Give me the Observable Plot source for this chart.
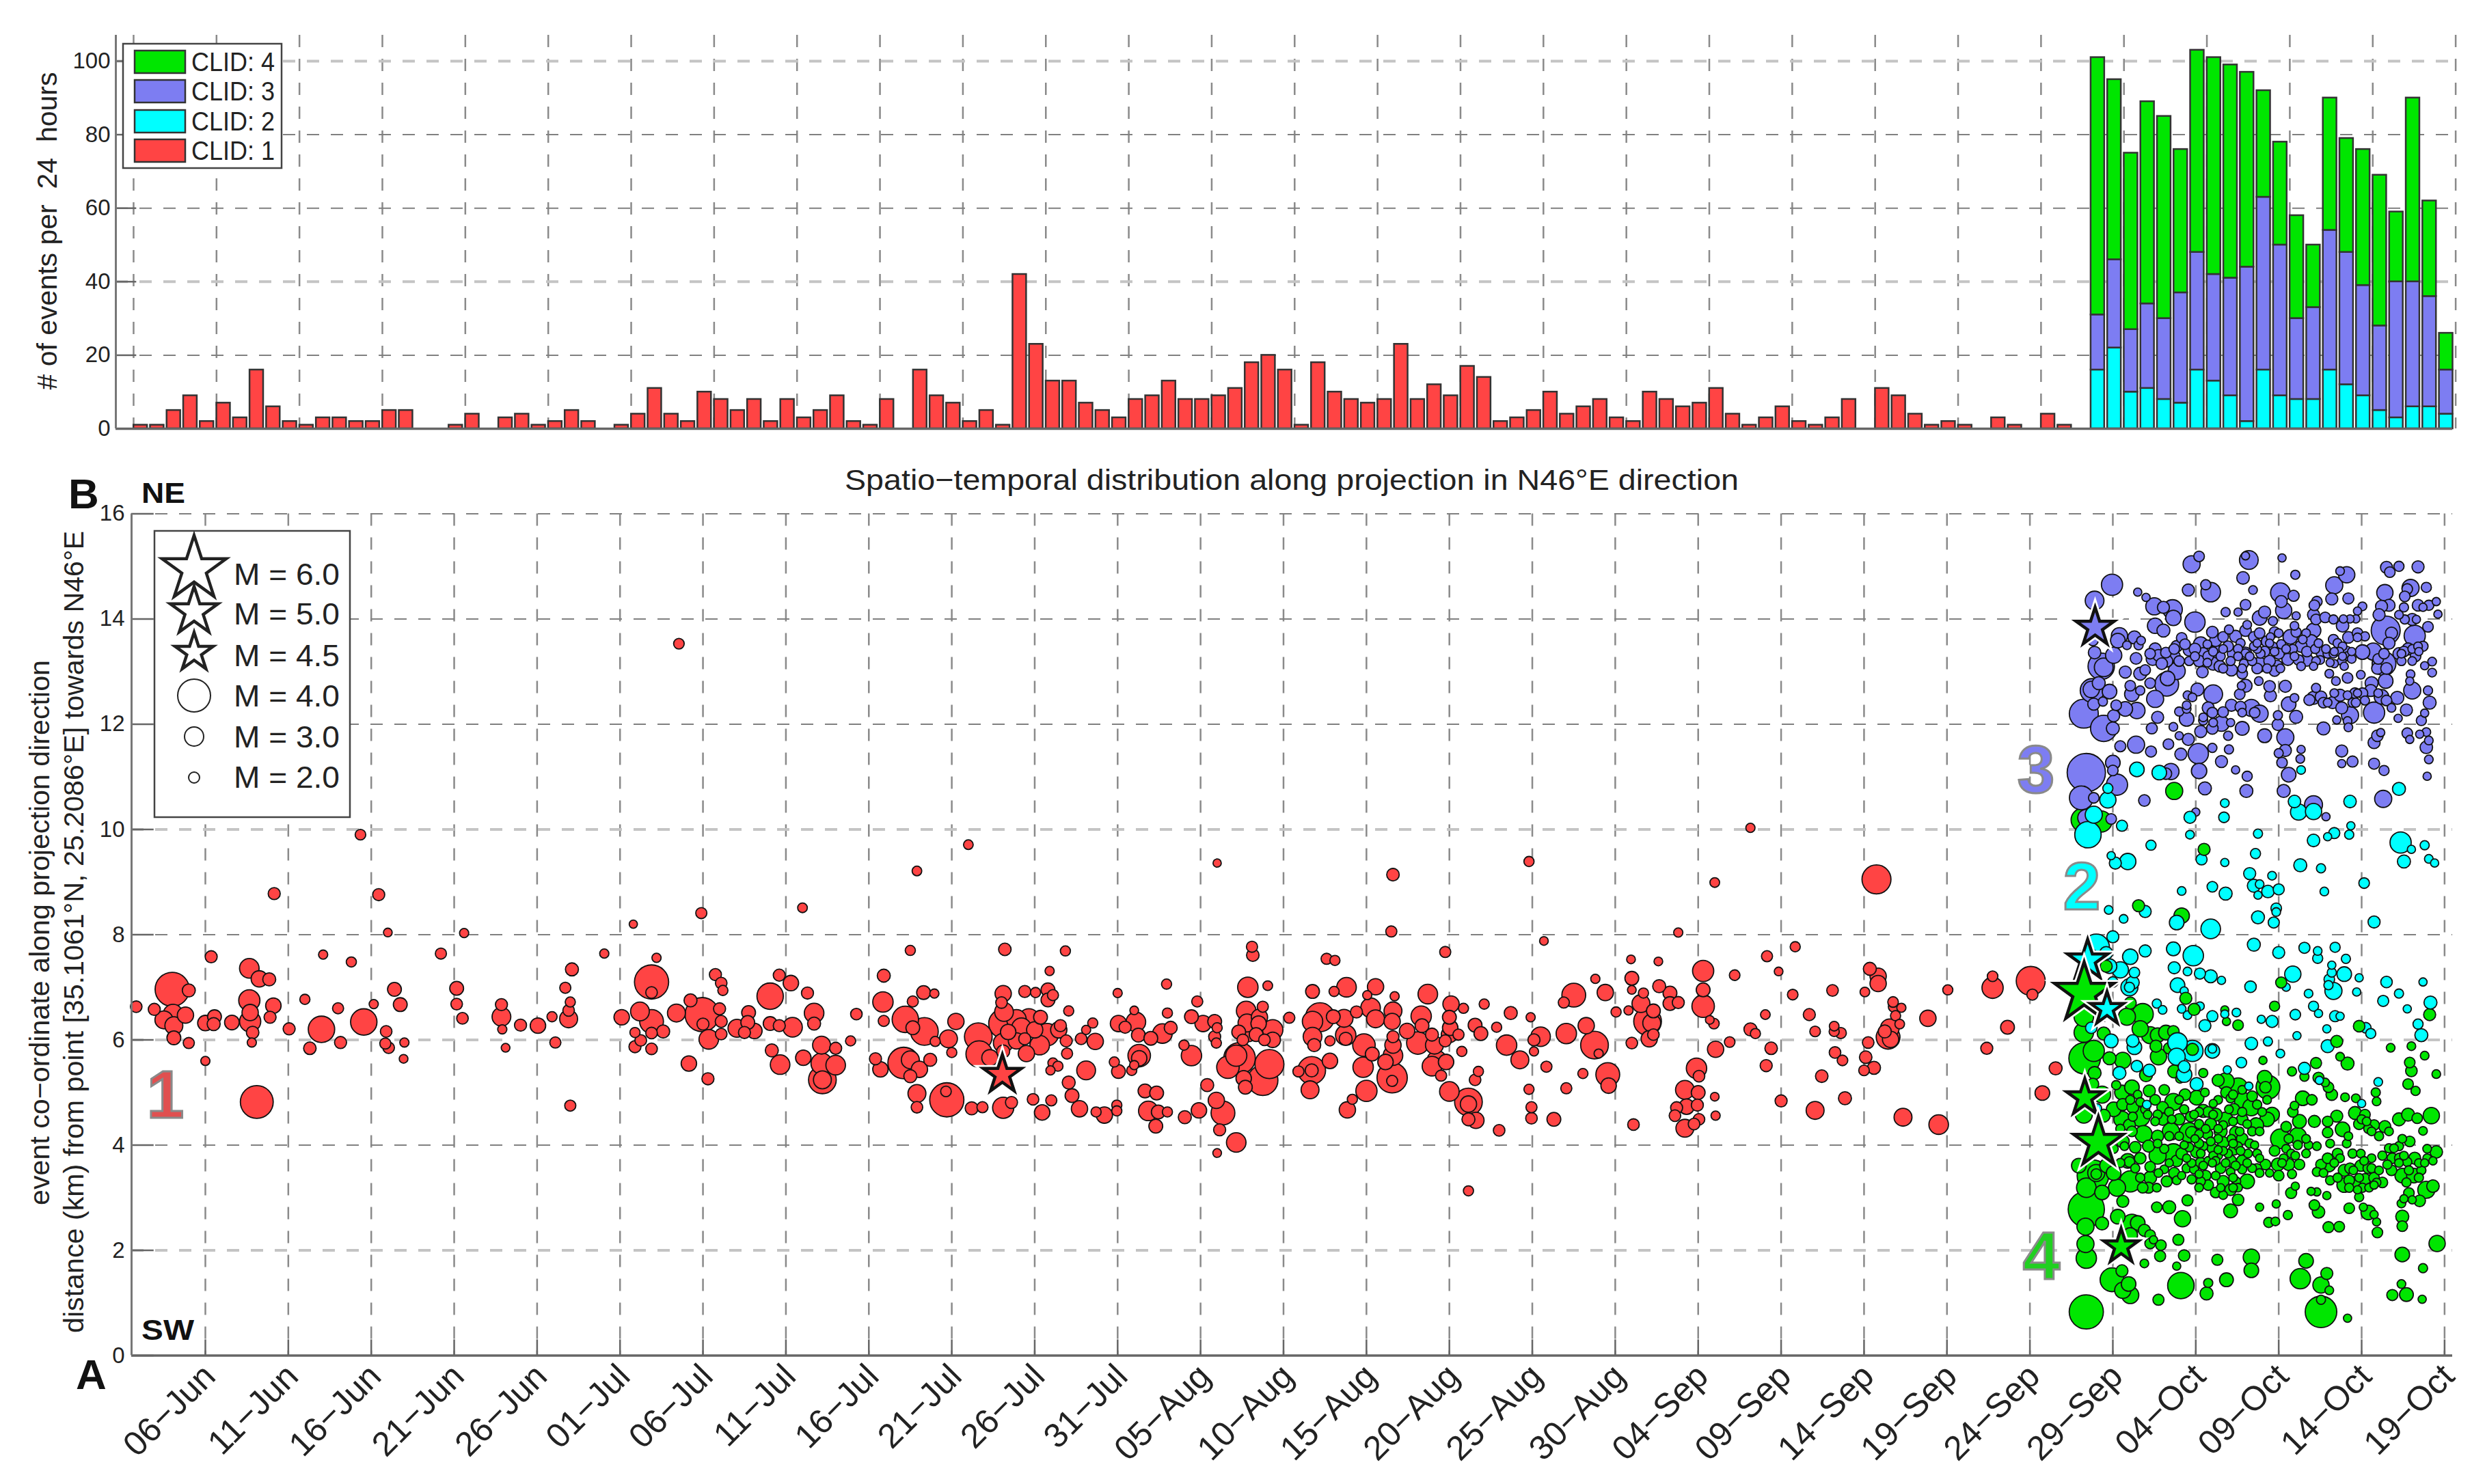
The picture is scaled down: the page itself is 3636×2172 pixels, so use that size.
<!DOCTYPE html>
<html><head><meta charset="utf-8">
<script src="https://cdn.jsdelivr.net/npm/d3@7"></script>
<script src="https://cdn.jsdelivr.net/npm/@observablehq/plot@0.6"></script>
<style>html,body{margin:0;padding:0;background:#fff}#page{position:relative;width:3636px;height:2172px;overflow:hidden;background:#fff}svg{position:absolute;left:0}</style>
</head><body><div id="page"></div>
<script>
// Daily event counts (24 h bins), first bin is index 0
const countsClid1 = [1,1,5,9,2,7,3,16,6,2,1,3,3,2,2,5,5,0,0,1,4,0,3,4,1,2,5,2,0,1,4,11,4,2,10,8,5,8,2,8,3,5,9,2,1,8,
0,16,9,7,2,5,1,42,23,13,13,7,5,3,8,9,13,8,8,9,11,18,20,16,1,18,10,8,7,8,23,8,12,9,17,14,2,3,5,10,4,6,8,3,2,10,8,6,7,
11,4,1,3,6,2,1,3,8,0,11,9,4,1,2,1,0,3,1,0,4,1,0];
const countsClid2 = [16,22,10,11,8,7,16,13,9,2,16,9,8,8,16,12,9,5,3,6,6,4];
const countsClid3 = [15,24,17,23,22,30,32,29,32,42,47,41,22,25,38,36,30,23,37,34,30,12];
const countsClid4 = [70,49,48,55,55,39,55,59,58,53,29,28,28,17,36,31,37,41,19,50,26,10];

// Events: [days since 1 June, km along projection, magnitude]
const clid1Events = [[.83,6.63,1.7],[1.92,6.58,1.8],[3,6.96,4],[4,6.94,2],[2.5,6.38,2.6],[3.05,6.49,2.8],[3.8,6.47,2.4],[3.1,6.27,2.6],[3.1,6.04,2.1],[4,5.94,1.6],[5,6.32,2.3],[5.55,6.44,2.1],[5.5,6.3,2],[5,5.6,1.2],[5.35,7.58,1.8],[6.6,6.33,2.2],[7.65,7.36,2.8],[8.25,7.16,2.4],[8.85,7.15,2],[7.65,6.75,3],[7.7,6.52,2.4],[7.7,6.35,3],[7.85,6.14,1.9],[7.8,5.95,1.2],[9.1,6.65,2.3],[8.9,6.43,1.8],[8.1,4.82,3.9],[10.05,6.21,1.8],[11.3,5.84,1.9],[11,6.77,1.4],[12,6.2,3.4],[13,6.6,1.6],[13.15,5.95,1.8],[14.55,6.34,3.4],[15.15,6.68,1.2],[13.8,7.48,1.4],[15.9,6.16,1.7],[15.85,5.93,1.6],[16.05,5.85,1.7],[17,5.95,1.2],[16.95,5.64,1.1],[16.4,6.96,2.1],[16.75,6.67,2.1],[20.15,6.98,2.1],[20.15,6.68,1.7],[20.5,6.41,1.7],[22.85,6.67,1.8],[22.85,6.44,2.7],[22.9,6.2,1.2],[23.1,5.85,1.1],[24,6.28,1.8],[25.05,6.27,2.3],[25.9,6.44,1.4],[26.1,5.95,1.6],[26.7,6.99,1.6],[27.1,7.34,2],[27,6.72,1.4],[26.9,6.56,1.7],[26.9,6.4,2.6],[27,4.75,1.6],[30.1,6.43,2.3],[31.9,7.1,4],[31.9,6.9,1.7],[31.2,6.54,2.7],[31.9,6.35,3.2],[30.9,6.14,1.4],[31.25,5.99,1.7],[30.9,5.87,1.8],[31.9,5.83,1.7],[31.9,6.13,1.7],[32.6,6.16,2],[33.4,6.51,2.6],[34.95,6.48,4],[35,6.3,1.8],[34.25,6.75,2],[35.35,6.01,2.8],[34.15,5.55,2.3],[35.3,5.26,1.8],[35.75,7.24,1.8],[36.1,7.08,1.7],[36.2,6.94,1.4],[36,6.59,1.8],[36.1,6.35,1.8],[36.1,6.11,1.7],[37.05,6.22,2.6],[37.75,6.52,2.1],[37.7,6.33,2.1],[37.5,6.14,1.8],[38.1,6.17,2.3],[39.05,6.83,3.4],[39.05,6.31,2.1],[39.6,6.27,1.8],[40.4,6.24,2.8],[40.3,7.08,2.3],[39.6,7.23,1.8],[41.3,6.89,1.8],[41.7,6.51,2.8],[41.7,6.31,2],[39.15,5.8,2],[39.65,5.53,2.8],[41.05,5.66,2.3],[42.15,5.9,2.6],[43,5.84,1.8],[42.15,5.55,3],[43,5.52,2.8],[42.2,5.24,3.5],[42.2,5.24,2.6],[43.9,5.98,1.4],[44.25,6.49,1.7],[45.4,5.64,1.8],[45.7,5.44,2.3],[45.85,6.72,2.9],[45.9,7.22,2],[45.9,6.36,1.6],
[33.55,13.53,1.5],[14.35,9.9,1.5],[9.15,8.78,1.8],[15.45,8.76,1.8],[16,8.04,1.1],[20.6,8.03,1.2],[34.9,8.41,1.6],[41,8.51,1.3],[30.8,8.2,1],[12.1,7.62,1.2],[19.2,7.64,1.6],[29.05,7.64,1.2],[32.2,7.56,1.2],
[51,9.71,1.3],[47.9,9.21,1.3],[66,9.36,1],[76.6,9.14,1.9],[84.8,9.39,1.4],[76.5,8.06,1.6],[93.8,8.04,1.2],[47.5,7.7,1.4],[53.2,7.72,1.9],[56.85,7.69,1.4],[68.1,7.77,1.6],[68.15,7.61,1.9],[72.6,7.54,1.6],[73.1,7.51,1.4],[79.75,7.67,1.6],[85.7,7.88,1.1],[90.95,7.53,1.1],[92.6,7.49,1.1],[55.9,7.31,1.2],[62.95,7.06,1.4],[69.05,7.03,1.3],[67.85,7,2.9],[73.8,7,2.8],[75.55,7.01,2.4],[71.75,6.92,2.1],[73.05,6.92,1.4],[75.05,6.85,1.2],[78.7,6.87,2.8],[76.7,6.83,1.2],[87.5,6.85,3.2],[86.9,6.71,1.6],[88.8,7.16,1.2],[91,7.17,2.1],[89.4,6.9,2.4],[91,6.95,1.1],[92.65,7.02,2],[91.7,6.89,1.4],[93.3,6.89,2.1],[93.8,6.71,1.8],[93.3,6.69,2.1],[95.3,7.31,3],[95.3,6.95,2.1],[95.3,6.64,3.1],[48.3,6.9,2.1],[48.95,6.88,1.2],[47.65,6.73,1.6],[53.1,6.88,2.4],[54.4,6.92,1.8],[55.05,6.9,1.4],[55.8,6.95,2.1],[55.8,6.76,2.1],[56.1,6.85,1.6],[57.05,6.55,1.4],[60,6.89,1.2],[61,6.56,1.1],[64.8,6.73,1.6],[63,6.51,1.4],[64.45,6.44,2.1],[70.35,6.42,1.6],[82.1,6.68,1.4],[83.7,6.51,2],[82.85,6.24,1.4],[84.9,6.43,1.2],[80.85,6.6,1.4],[80.1,6.68,2.4],[47.2,6.39,3.4],[48.35,6.16,3.5],[47.65,6.23,2.1],[50.25,6.35,2.4],[49.8,6.02,2.6],[49,5.97,1.4],[50,5.76,1.4],[51.6,6.06,3.5],[51.65,5.73,3.4],[47.1,5.56,3.8],[47.5,5.62,2.6],[48.05,5.44,2.4],[47.5,5.31,2],[48.7,5.62,2],[47.9,4.98,2.6],[47.9,4.72,1.7],[49.7,4.86,4],[49.65,5.02,1.5],[51.2,4.7,2],[51.85,4.72,1.6],[53.1,4.71,3],[53.6,4.81,1.8],[54.9,4.87,1.7],[56,4.85,1.6],[55.45,4.62,2.3],[57.7,4.69,2.4],[57.25,4.94,2.1],[57.05,5.19,2],[58.1,5.42,2.7],[58.7,4.63,1.4],[59.2,4.57,2.4],[59.95,4.76,1.4],[59.95,4.65,1.4],[60.05,5.4,2.1],[59.8,5.58,1.4],[58.65,5.97,2.4],[57.8,6.02,1.7],[58.1,6.19,1.2],[58.5,6.32,1.4],[60.05,6.31,2.4],[61.1,6.34,2.8],[60.45,6.24,1.8],[61.25,6.09,2.1],[62,6.03,2.1],[62.7,6.12,2.8],[63.2,6.23,2],[61.3,5.7,3.1],[61.3,5.65,2.3],[60.85,5.42,1.4],[61,5.52,1.2],[64.45,5.7,2.9],[64,5.9,1.4],[65.15,6.31,2.4],[65.85,6.35,2.1],[66,6.23,1.4],[65.85,6.06,1.8],[65.95,5.94,1.4],[65.4,5.14,2],[61.65,5.03,2.1],[62.35,4.99,2.1],[61.85,4.65,2.8],[62.45,4.63,2.1],[63,4.63,1.4],[62.3,4.36,2.1],[64.05,4.53,2],[64.9,4.66,2.3],[65.95,4.85,2.4],[66.35,4.61,3.2],[66.15,4.29,1.8],[67.15,4.05,2.8],[66,3.85,1.1],[81.15,3.13,1.4],[67.35,5.65,3.8],[67.15,5.7,3],[66.65,5.48,3.1],[69.15,5.54,3.6],[68.75,5.23,3.7],[67.6,5.27,2.3],[67.7,5.1,2.1],[67.85,6.15,2.8],[67.75,6.55,2.8],[67.8,6.32,2.6],[68.55,6.43,2.4],[68.75,6.63,1.6],[69.35,6.19,2.9],[69.35,6,2.3],[68.35,6.1,2.1],[67.3,6.15,2.1],[68.85,6,1.7],[67.55,6,1.7],[68.5,6.31,2.3],[72.2,6.43,3.6],[71.75,6.35,2.9],[73,6.44,2.1],[73.65,6.41,2.6],[71.75,6.06,2.7],[71.85,5.9,2],[72.8,5.98,1.4],[73.75,6.09,2.9],[73.75,6.02,2],[74.4,6.53,1.8],[74.85,5.9,3.1],[75.25,6.61,2.8],[75.55,6.4,2.6],[75.35,5.73,2.1],[74.8,5.48,2.9],[71.7,5.42,3.5],[71.7,5.42,2],[70.9,5.4,1.6],[72.8,5.6,2.3],[71.6,5.05,2.6],[75,5.03,3],[74.15,4.87,1.4],[73.85,4.67,2.4],[76.55,5.28,3.7],[76.55,5.22,1.6],[76.6,5.7,2.8],[76.15,5.58,2.3],[76.6,5.9,2.4],[76.6,6.55,2.6],[76.55,6.35,2.4],[76.6,6.06,1.8],[77.45,6.17,2.3],[78.1,5.94,3.1],[78.3,6.45,2.9],[78.35,6.27,2.1],[79.1,5.9,2.6],[78.95,6.1,2],[79.25,5.61,2.8],[78.95,5.5,2.8],[79.8,5.58,2.3],[79.5,5.32,1.6],[80.05,6.23,2.3],[80,6.43,2.1],[80,6.1,2.4],[79.75,5.98,1.8],[80.55,6.1,1.6],[80.75,5.78,1.4],[81.55,6.28,2.1],[81.9,6.12,2.1],[81.55,5.24,1.7],[81.75,5.4,1.4],[80,5.02,2.8],[81.15,4.82,3.5],[81.15,4.78,2.4],[81.15,4.49,2],[81.6,4.47,2.4],[83,4.28,1.7],[83.45,5.9,2.9],[84.25,5.62,2.6],[85.5,6.06,2.8],[85.1,6,1.8],[85.1,5.78,1.2],[85.85,5.49,1.6],[84.8,5.06,1.4],[84.95,4.72,1.6],[84.95,4.51,1.7],[86.3,4.49,2.1],[87.05,6.12,2.9],[88.25,6.27,2.4],[88.75,5.9,3.5],[89,5.74,1.2],[87.05,5.08,1.6],[88.05,5.36,1.4],[89.55,5.34,3.2],[89.6,5.13,2.3],[90.05,6.53,1.4],[91,5.94,1.7],[90.8,6.56,1.2],[91.55,6.69,2.6],[91.95,6.35,3.5],[92.2,6.32,2.6],[92.05,6.02,2.4],[92.3,6.1,1.7],[92.3,6.55,2.1],[94.9,5.46,2.9],[95.05,5.31,1.7],[94.2,5.05,2.7],[95,5,2.1],[94.3,4.73,2.3],[93.7,4.71,1.8],[93.6,4.56,1.7],[94.95,4.76,1.8],[95.05,4.49,1.7],[94.2,4.32,2.6],[94.75,4.4,1.7],[91.1,4.39,1.7],
[53.1,6.31,3.6],[53.15,6.53,2.7],[53,6.71,1.7],[53.9,6.39,2.8],[54.65,6.39,3],[55.35,6.43,2.1],[54.2,6.23,2.8],[53.4,6.15,2.3],[55,6.19,2.4],[55.75,6.1,3.1],[56.45,6.19,2.4],[55.3,5.9,2.8],[56.9,5.98,1.8],[56.55,6.27,1.8],[53.1,5.94,2.8],[53.9,5.98,2.4],[54.5,5.74,2.4],[54.4,6.02,1.8],[52.3,5.66,2.4],[53.1,5.78,2],[56.95,5.74,1.6],[56.1,5.56,1.4],[56.4,5.5,1.4],[55.95,5.42,1.2],
[98.15,10.03,1.2],[96,8.99,1.3],[105.75,9.05,3.6],[100.85,7.77,1.4],[99.15,7.59,1.6],[97.2,7.23,1.5],[99.85,7.3,1.1],[103.1,6.94,1.7],[105.05,6.91,1.3],[100.7,6.86,1.5],[105.35,7.35,2],[105.85,7.21,2.4],[105.85,7.07,2.4],[110.05,6.95,1.4],[112.75,6.99,3],[112.75,7.21,1.5],[115.05,7.12,3.6],[115.15,6.86,1.6],[108.85,6.41,2.4],[113.65,6.24,2.1],[116.55,5.46,2],[115.75,4.99,2.2],[112.4,5.84,1.8],[106.75,6.72,1.5],[106.8,6.63,1.6],[107.25,6.61,1.2],[106.9,6.46,1.4],[107.15,6.3,1.3],[106.55,6.22,2.7],[106.25,6.16,2],[106.45,6.05,3.2],[106.6,6.01,2.4],[105.25,5.95,1.7],[99.05,6.48,1.3],[101.7,6.48,1.8],[102.05,6.16,1.5],[103.2,6.26,1.3],[103.2,6.16,1.4],[103.6,6.13,1.6],[98.15,6.2,2],[98.45,6.12,1.4],[96.9,5.96,1.5],[99.4,5.84,1.9],[96.05,5.82,2.4],[95.95,6.31,1.5],[95.7,6.38,1.1],[99.1,5.51,1.8],[103.25,5.76,1.7],[103.7,5.61,1.5],[105.1,5.67,1.9],[105.6,5.47,2],[105,5.42,1.5],[102.45,5.31,1.9],[96,4.92,1.1],[100,4.84,1.8],[103.85,4.89,2],[96.05,4.56,1.2],[102.05,4.66,2.6],[107.35,4.53,2.6],[109.5,4.39,2.8]];

const clid3Events = [[124.75,15.04,2.5],[125.2,15.19,1.5],[128.2,15.12,2.7],[128,15.2,1],[127.85,14.78,1.9],[130.2,15.16,1],[131,14.84,1.2],[119.95,14.65,3],[118.9,14.35,2.7],[121.5,14.51,1],[122,14.41,1],[124.55,14.55,1.8],[125.9,14.51,2.8],[125.6,14.65,1.4],[128.45,14.55,1.1],[130.1,14.5,2.8],[130.9,14.44,1.6],[130.15,14.33,1.8],[130.3,14.16,2.4],[128,14.27,1.5],[126.8,14.13,1.2],[127.55,14.13,1],[128.85,14.02,2.2],[129.15,14.13,1.8],[122.5,14.24,2.5],[123.05,14.22,1.8],[123.6,14.18,2.8],[123.65,14.02,2.3],[124.95,13.94,2.9],[122.55,13.87,2.3],[123.05,13.78,2],[120.4,13.68,2.4],[120.3,13.59,2.2],[121.3,13.65,2],[121.7,13.59,1.1],[121.55,13.5,1.2],[120.85,13.5,1.1],[118.9,13.36,1.9],[120.05,13.31,2.4],[118.8,13.59,1.5],[121.4,13.25,1.7],[119.3,13.1,3.4],[119.45,13.08,2.7],[120.75,12.99,1.8],[121.65,12.96,2],[122.55,13.43,1.8],[122.25,13.34,1.5],[122.75,13.31,1.7],[123.2,13.36,1.5],[124.15,13.64,1.5],[123.85,13.48,1.7],[123.7,13.29,1.8],[124.6,13.41,1.8],[125.3,13.52,2.2],[125.45,13.34,1.8],[126,13.75,1.7],[126.2,13.59,1.8],[126.2,13.38,2],[126.65,13.66,1.5],[127,13.8,1.2],[127.4,13.67,1.8],[128,13.78,1.7],[128.1,13.89,1.1],[126.95,13.48,1.5],[127.25,13.34,1.7],[127.7,13.54,1.2],[128,13.35,1.8],[128,13.35,1.1],[128.5,13.66,1.5],[128.85,13.73,1.5],[129.3,13.57,1.7],[129.75,13.75,1.5],[129.65,13.96,1.2],[130,13.73,1.1],[130.7,13.66,2.2],[129.5,13.66,1],[130.15,13.52,1.2],[131.35,13.48,1.8],[131.05,13.75,1.4],[130.95,13.87,1.1],[131.05,14.06,1],[131.95,13.57,2.1],[131.65,13.73,1.1],[132.1,13.78,2.2],[132.3,14.33,1.5],[132.15,14.26,1.5],[132.1,14.08,1.8],[132.25,13.99,1.5],[132.8,14.03,1.5],[133.35,14.64,2.5],[133.2,14.38,1.8],[134.1,14.84,2.4],[133.7,14.91,1.1],[134.2,14.39,1.6],[135.05,14.24,1.1],[134.75,14.15,1],[134.65,14,1],[134.3,14,1],[133.9,14,1],[133.85,13.87,1.9],[133.3,13.99,1.2],[134.2,13.65,1.7],[133.3,13.61,1.4],[134.75,13.73,1.5],[134.75,13.65,1.1],[135.2,13.67,1.2],[132.6,13.36,1.7],[133.3,13.34,1.1],[134.1,13.38,1.5],[134.15,13.29,1.2],[133.8,13.2,1.1],[133.35,13.15,1],[133.05,12.96,1.1],[133.45,12.82,1.1],[134.15,12.88,1.5],[134.95,12.94,1.1],[135.05,13.37,2.2],[135.7,13.38,2.5],[136.45,13.78,3.6],[136.8,13.73,1.8],[138.2,13.68,3],[136.4,14.5,2.4],[136.5,14.98,1.8],[136.7,14.89,1.5],[137.25,15,1.4],[138.4,14.99,1.8],[138.9,14.6,1.4],[137.95,14.59,2.5],[137.75,14.57,1.5],[137.6,14.43,1.5],[136.65,14.26,1.8],[136.2,14.24,1.8],[137.55,14.22,1.2],[138.4,14.26,1.7],[139.05,14.26,1.4],[139.5,14.33,1],[139.6,14.09,1],[138.05,13.99,1.8],[139,13.85,1.5],[136.05,14.08,1.8],[137.6,13.99,1.2],[136.35,13.15,3.2],[136.45,12.82,2.2],[137.25,13.34,1.8],[137.4,13.34,1.1],[137.8,13.43,1.8],[138.7,13.48,1.4],[138.25,13.29,1.5],[139.25,13.19,1.1],[138.8,13.11,1],[139.25,12.98,1.1],[137.95,12.95,1.1],[136,13.24,1.5],[136.65,13.54,1.8],[135.95,13.06,1.7],[135.6,12.78,2],
[125.75,13.29,1.5],[126.05,13.15,2],[126.45,13.1,1.7],[127.15,13.03,1.8],[126.65,13.06,1.2],[125.2,13.2,1.7],[125.4,12.99,1.7],[123.85,13.01,2.5],[123.3,12.87,2.2],[123.25,12.76,3.2],[122.55,12.48,2.5],[121.95,13.03,1.5],[122.95,13.15,1.7],[124,13.2,1.5],[124.6,13.2,1.2],[126.05,13.38,1.2],[127.9,13.15,1.2],[128.85,13.13,2.2],[128.4,13.2,1.2],[129.45,13.2,1.7],[129.9,13.1,1.8],[130,13.34,1.6],[130.55,13.23,1.8],[129.15,13.38,1.5],[128.7,13.43,1.1],[129.65,13.48,1.1],[129.45,13.54,1],[128.7,13.54,1],[131.7,13.22,1.9],[131.2,13.22,1.5],[131.35,13.1,1.1],[132.2,13.43,1.2],[132.5,13.22,1.1],[132.95,13.34,1.2],[133.1,13.17,1],[132.1,13.1,1],[130.85,13.43,1.2],[134.4,13.24,1.1],[133.85,13.48,1.1],[133.55,13.54,1.2],[133.35,13.38,1],[133.85,13.29,1],[127.8,13.06,1.1],[127.8,12.96,1.5],
[121.05,12.73,1.5],[121.15,12.57,2.2],[118.75,12.64,3.2],[118.7,12.66,2.4],[119.8,12.62,2.2],[119.15,12.78,2],[118.85,12.38,1.8],[119.4,12.43,1.2],[118.25,12.2,3.6],[119.45,11.92,3.4],[120,11.92,2],[120.05,12.16,1.8],[121.45,12.26,2.4],[120.75,12.29,2.2],[120.2,12.36,1.5],[125.1,12.66,2],[126.05,12.57,2.7],[122.7,12.13,1.8],[122.35,11.92,1.6],[123.65,11.95,1.1],[124,12.24,1.2],[124.45,12.29,1.1],[124.45,12.1,2.2],[124.5,12.55,1.1],[124.8,12.51,1.1],[125.75,12.31,1.8],[126,12.22,1.5],[127.15,12.36,1.8],[126.65,12.23,1.5],[127.7,12.33,1.6],[128.35,12.31,2.5],[128.85,12.2,2.5],[128.55,12.22,1.5],[128,12.73,2],[127.65,12.57,1.5],[127.75,12.73,1],[128.8,12.82,1.1],[129.45,12.72,1.7],[129.5,12.54,1.8],[130.4,12.72,1.8],[130.6,12.38,2.2],[130.95,12.5,1.1],[131.05,12.14,2],[129.95,12.17,1.2],[129.95,11.99,1.7],[125.45,12.07,1.2],[126.55,12.01,2.3],[126,11.92,1.7],[125.3,11.86,1.8],[127.1,12.03,1],[127.8,11.92,2.1],[126.95,11.78,1.2],[129.15,11.78,2.1],[130.4,11.75,2.5],[132.7,11.92,2],[132.1,12.5,2],[131.85,12.46,1.6],[132.55,12.52,1.7],[132.25,12.69,1.2],[132.7,12.41,1.5],[133.25,12.41,1.8],[133.7,12.55,1.8],[133.8,12.31,1.8],[134.3,12.17,2.5],[133.5,12.08,1],[134.15,12.06,1.1],[134.2,11.94,1.1],[134.45,12.41,1.2],[134.6,12.59,1.5],[135.05,12.59,1.5],[135.55,12.64,1.8],[136.2,12.52,2.2],[135.75,12.22,3],[136.5,12.45,1.5],[137.15,12.5,2],[138.05,12.64,2.5],[137.9,12.82,1],[137.7,12.27,1.8],[137.2,12.11,1],[139.1,12.41,2],[139,12.64,1.2],[138.8,12.21,1],[138.6,12.07,1.4],[137.75,11.83,1.5],[138.5,11.81,1],[138.9,11.85,1.1],[139.05,11.69,1.1],[138.9,11.56,1.9],[139.05,11.33,1.1],[138.95,11.01,1],[135.95,11.78,1.7],[135.75,11.65,1.8],[136.15,11.84,1],[137.9,11.71,1],
[121.4,11.61,2.5],[120.45,11.58,1.6],[122.3,11.48,1.6],[123.35,11.62,1.5],[124.55,11.71,1.8],[124,11.78,1],[124.1,11.43,1.8],[125.15,11.44,2.9],[126,11.55,1.2],[127,11.52,1.2],[126.55,11.29,1.8],[125.2,11.11,2.3],[123.2,11.06,1.7],[123.5,11.1,2.4],[127.4,11.13,1],[128.1,11.01,1.4],[128.05,10.73,2],[125.55,10.78,2],[121.9,10.55,1.7],[120,11.27,2.2],[120,11.12,1.5],[120.25,10.85,3],[118.4,11.08,4.2],[118.1,10.6,3.2],[118.85,10.6,1.5],[118.4,10.22,2.5],[119.9,10.2,1.5],[130.4,11.5,1.8],[130,11.45,1.2],[130.2,11.27,1.5],[130.6,11.04,2.2],[130.3,10.73,2],[131.35,11.52,1],[131.3,11.34,1.1],[133.8,11.49,1.8],[134.45,11.29,1.6],[133.8,11.25,1],[135.75,11.25,1.6],[136.35,11.12,1.4],[136.3,10.58,2.5],[132.1,10.47,2.6],[132.85,10.24,1],[125,10.33,1],
[122.4,13.24,2],[123.25,13.2,1.8],[123.7,13.43,1.5],[124.35,13.52,1.5],[124.95,13.43,1.7],[124.95,13.29,1.2],[125.7,13.52,1.1],[125.7,13.17,1.1],[126.5,13.29,1.2],[126.65,13.43,1.1],[127.1,13.2,1.2],[127.55,13.29,1.1],[127.55,13.43,1.2],[128.25,13.29,1.1],[128.5,13.48,1.1],[128.9,13.34,1.2],[128.7,13.06,1.5],[129.3,13.06,1.2],[129.75,13.38,1.1],[129.75,13.01,1.5],[130.1,13.06,1.1],[130.45,13.43,1.1],[130.95,13.29,1.1],[131.45,13.61,1.1],[131.7,13.38,1.5],[132.4,13.54,1.1],[132.85,13.43,1.1],[132.25,13.2,1.1],[133.65,13.38,1.1],[134.4,13.38,1],[133.95,13.1,1],[136.5,13.06,1.7],[137.55,13.38,1.5],[138.05,13.43,1.1],[138.4,13.48,1.1],[137.4,13.2,1.2],[136.35,13.34,1.5],[138.05,13.2,1.1],[138.45,13.38,1],[137.25,14.08,1.1],[138.3,13.99,1],[138.7,14.22,1],[134.15,12.55,1.1],[133.35,12.59,1.1],[134.65,12.41,1.2],[135.2,12.45,1.2],[134.75,12.59,1],[136,12.59,1.1],[132.95,12.41,1.1],[136.8,12.31,1.1],[125.45,12.13,1.1],[126.05,12.03,1.1],[127.8,12.22,1.1],[124.45,12.36,1.1],[121.65,12.64,1.2],[122.25,12.78,1.5]];

const clid2Events = [[121.45,11.14,2.2],[122.8,11.08,2.2],[119.7,10.78,1.4],[119.7,10.56,2.4],[118.85,10.28,2.5],[120.55,10.07,1.6],[118.5,9.9,3.4],[124.65,10.23,1.8],[124.65,9.9,1.1],[126.75,10.5,1.1],[126.7,10.23,1.5],[122.3,9.7,1.4],[119.9,9.5,1],[120.15,9.36,1.8],[120.9,9.39,2.4],[125.35,9.43,1.6],[126.75,9.37,1],[128.75,9.92,1.2],[128.6,9.54,1.4],[131.35,11.13,1.1],[130.95,10.53,1.9],[131.2,10.33,2.4],[132.1,10.34,2.4],[134.3,10.53,1.9],[137.25,10.77,2],[133.35,9.93,1.6],[132.95,9.86,1],[132.1,9.79,1.9],[134.25,9.9,1.2],[134.35,10.07,1],[137.35,9.75,3],[138,9.62,1],[138.8,9.7,1.2],[137.55,9.39,2],[139.05,9.44,1.1],[139.4,9.36,1],[131.3,9.32,2],[132.55,9.26,1.2],[128.25,9.16,1.8],[129.6,9.12,1.1],[128.5,8.93,2],[128.85,8.96,1.1],[129.35,8.82,1.9],[130,8.86,1.6],[126.8,8.78,2],[126,8.91,1.5],[124.15,8.83,1.1],[128.75,8.75,1],[135.15,8.98,1.5],[132.75,8.82,1.1],[129.85,8.5,1.5],[129.85,8.43,1.1],[128.75,8.33,2],[129.7,8.23,1.6],[135.75,8.24,1.8],[119.75,8.47,1.1],[121.95,8.44,1.8],[120.65,8.3,1.1],[123.85,8.23,2.2],[125.9,8.11,2.8],
[121.05,7.58,2.3],[121.95,7.69,1.8],[123.65,7.73,2.1],[124.85,7.6,2.9],[128.5,7.81,2],[130,7.66,1.8],[131.55,7.75,1.6],[132.35,7.69,1.1],[132.35,7.55,1.4],[133.4,7.76,1.4],[134.05,7.54,1.2],[133.2,7.42,1],[123.7,7.37,1.8],[124.5,7.3,1.1],[125.25,7.26,1.6],[125.9,7.21,2],[126.55,7.13,1],[120.45,7.33,2.4],[121.3,7.28,1.5],[121.2,7.09,2],[121,7,2.5],[121,7,1.4],[123.9,7.04,2.2],[124.3,6.93,1],[128.3,7.01,1.7],[130.85,7.25,2.4],[130.45,7,1],[133.2,7.28,1.2],[133.95,7.25,2.2],[133.05,7.15,1.5],[133,7.04,1.2],[133.3,6.93,2.5],[134.85,7.18,1],[134.7,6.91,1],[131.8,6.88,1.1],[136.5,7.1,1.7],[138.7,7.1,1],[137.25,6.88,1.2],[136.3,6.74,1.6],[139.15,6.71,2],[137.75,6.59,1],[132.1,6.64,1.4],[132.4,6.5,1],[131,6.48,1.5],[127.45,6.52,1.1],[128.95,6.39,1],[129.6,6.35,1.8],[133.4,6.45,1.6],[133.7,6.45,1],[135.25,6.23,1.5],[138.4,6.3,1.4],[138.6,6.09,2],[135.55,6.12,1.4],[132.9,6.21,1],[131.1,6.08,1],[129.35,5.97,1.2],[128.35,5.93,1.9],[130.1,5.74,1.1],[132.95,5.88,2],[127.75,5.57,1.5],[131.55,5.46,1.8],[132.45,5.23,1],[128.2,5.12,1],[136,5.2,1.1],[135,4.79,1],[122.65,6.69,1.2],[123,6.57,1.1],[124.15,6.59,1.1],[124.5,6.47,1.1],[125.25,6.64,1.1],[126,6.45,1.6],[125.55,6.27,1.8],[126.75,6.49,1],[118.7,6.23,1.7],[119.9,5.98,2.1],[121.2,5.98,1.9],[121.3,5.86,2.2],[123.9,5.95,2.8],[124.8,5.79,3],[123.85,5.68,2.5],[124.3,5.49,1.8],[124.3,5.34,2.3],[125.05,5.16,2],[126,5.79,2.2],[126,5.83,1.1],[121.45,5.5,1.7],[122.2,5.42,1.9],[120.4,5.37,2],[119.05,4.7,1.2],[122.05,4.77,1.1],[126.9,5.43,1],
[119,7.76,3.4],[120,7.96,1.8],[118.5,7.55,3],[119.8,7.4,2.2],[120,7.1,1.5],[119.6,7.65,2]];

const clid4Events = [[118.2,10.18,3.2],[119.3,10.15,3],[124.15,8.36,2.3],[118.4,2.78,4.1],[118.4,.83,4],[118.35,2.45,2.5],[119.35,2.51,2],[118.35,2.12,2.5],[118.4,1.85,2.9],[120.6,2.93,1.8],[122.65,2.82,1.5],[123.4,2.82,2],[124.5,2.95,1.6],[124.2,2.6,2.4],[123.95,2.2,1.6],[122.9,2.1,1.5],[122.85,1.89,1.6],[121.9,1.75,1.1],[124.3,1.9,1.7],[126.3,1.82,1.6],[128.35,1.87,2.4],[128.35,1.62,2.2],[126.85,1.44,2.1],[125.75,1.38,1.2],[125.65,1.18,2],[124.1,1.33,3.4],[123.85,1.7,1],[122.75,1.06,1.6],[119.95,1.44,3.2],[120.55,1.61,1.8],[120.95,1.36,2.2],[121.05,1.15,2.5],[120.6,1.24,2.4],[120.3,2.64,2.2],[121.15,2.5,2.8],[121.5,2.52,2.2],[121.9,2.38,1.8],[122.25,2.29,1.5],[122.45,2.2,1],[122.25,2.13,1.5],[121.05,2.29,2.2],[132.55,.83,3.8],[132.55,1.06,1.2],[134.15,.71,1],[131.3,1.46,2.9],[131.65,1.8,2.2],[132.9,1.56,1.8],[132.55,1.34,2.4],[133.05,1.24,1.1],[139.55,2.13,2.4],[137.45,1.92,2.2],[138.7,1.66,1.2],[137.4,1.36,1.1],[137.7,1.16,2.1],[136.85,1.15,1.6],[138.65,1.07,1],[137.45,2.64,2],[137.45,2.46,1.5],[135.95,2.34,1.5],[135.9,2.54,1],[135.4,2.72,2.2],[135.75,2.68,1],[135.1,2.82,1],[134.25,2.8,1.5],[133,2.44,1.6],[133.65,2.45,1.5],[132.4,2.73,1.9],[132.15,2.86,1.5],[132.9,3.04,1],[132.3,3.11,1],[131.95,3.12,1],[130.75,3.09,1.6],[131,3.22,1],[130.55,2.67,1.2],[129.85,2.88,1],[128.85,2.82,1],[129.4,2.53,1.4],[129.8,2.55,1.1],[127.1,2.75,2.1],[127.55,2.96,1.7],[137.4,2.89,1.1],[137.55,2.98,1],[137.85,3.09,1.5],[138.5,2.94,1.7],[138.05,2.96,1],[138.9,3.15,2.5],[139.3,3.22,1.9],[134.85,3.01,1.2],
[139.1,6.48,1.8],[136.75,5.85,1.1],[138,5.88,1.1],[138.8,5.7,1.1],[137.9,5.57,1.5],[138,5.41,1.7],[139.5,5.35,1.1],[137.8,5.16,1.5],[138.25,5.03,1.2],[135.85,5,1.2],[135.9,4.83,1.1],[134.65,4.89,1.1],[134,4.91,1.1],[133.7,5.68,1.1],[134.15,5.55,2],[132.25,5.56,1.6],[130.8,5.4,1.2],[132.4,5.28,1.6],[131.55,5.3,1.2],[132.8,5.19,1.1],[133.2,4.96,1.7],[133,5.1,1.5],[129.05,5.61,1],[127.55,6.28,1.5],[126.85,6.35,1],[126.75,6.57,1],
[121.8,6.49,3],[121.05,6.7,1.8],[120.85,6.44,2.5],[121.65,6.21,2.4],[122.25,6.09,2.5],[122.7,6.09,2.2],[123.2,6.14,2.2],[123.65,6.16,1.7],[122.75,5.68,2.4],[122.6,5.88,1.8],[118.85,5.79,3],[118.3,5.65,3.8],[118.25,6.14,2.8],[118.25,6.44,2.8],[119.45,6.12,2],[118.9,5.37,2],[118.8,5.16,1.7],[119.8,5.65,2],[120.6,5.61,2.4],[119.35,4.96,2.5],[118.25,4.58,2.5],[119.45,4.56,2],[120.55,5,2.2],[121.15,5.1,2.2],[122,5.33,2],[122.2,5.03,1.8],[123.7,5.4,2],[124.35,4.96,1.7],[123.1,5.05,1.5],[125.05,4.9,2.2],[125.45,5.37,1.2],[123.65,4.82,2.5],[120.6,4.77,1.8],[121.2,4.72,1.8],[120.05,4.68,2.2],[120.55,4.49,2.4],[121.65,4.54,2.8],[121,4.38,1.8],[123,4.72,1.7],[123,4.49,1.8],[122.55,4.86,1.5],[124,4.49,1.7],[125.45,4.65,2],[124.7,4.54,1.5],[126.05,4.79,1],[121.85,4.21,2.5],[121.15,4.26,1.5],[120.6,4.07,2],[122.7,4.17,1.8],[122.15,3.98,1.8],[121.35,3.96,1.7],[120.9,3.7,2.2],[121,3.68,1.5],[121.65,3.75,1.7],[122.7,3.8,2.5],[122.25,3.59,1.5],[123.5,4.26,2.5],[124.6,4.24,2.8],[124.75,4.24,1.8],[123.65,3.84,2.8],[123.1,3.54,1.1],[123.85,3.7,1.7],[123.7,3.47,1.6],[124.15,3.84,1.7],[125.05,3.87,1.8],[125.3,3.66,1.6],[124.45,3.56,1.2],[123.25,3.31,1.6],[122.25,3.38,2],[121.8,3.19,1.5],[122.15,3.19,1.6],[122.75,3.47,1.1],[121.05,3.31,3],[120.25,3.19,2.5],[119,3.47,2.5],[118.8,3.42,3.8],[119,3.45,1.5],[119.65,3.61,2.2],[120.05,3.47,2.2],[117.95,3.61,2.2],[118.4,3.19,2.8],[119.35,3.1,2.2],[125.75,4.63,1.5],[126.2,4.58,2],[126.8,4.49,2.2],[126.35,5.23,1.8],[126.8,5.21,2.5],[127.55,5.1,2.7],[126.85,5,1.7],[127.85,4.84,2.5],[128.35,4.72,2.5],[127.3,4.68,1.7],[127.1,4.89,1.2],[129.15,5.28,2.2],[129.2,5.1,1.7],[129.35,5.1,3.2],[129.6,4.58,2.2],[129.3,4.49,2.2],[128.65,4.38,2.2],[127.8,4.49,1.7],[128.4,4.93,1.5],[127.4,4.24,1.8],[126.5,4.26,2],[125.9,4.4,1.7],[125.7,4.21,1.5],[125.2,4.21,1.1],[126.65,4.05,1.7],[126,3.94,1.5],[127.3,3.91,1.5],[127.8,4.12,1.7],[128.25,4.03,1.2],[125.45,3.98,1.2],[126.35,3.8,1.1],[127.1,3.7,1.7],[127.8,3.7,1.7],[125.75,3.7,1.1],[126.5,3.56,1.5],[125.6,3.42,1.5],[124.9,3.54,1.2],[124.75,3.35,1.2],[124.15,3.42,1],[127.1,3.49,1.1],[128.1,3.31,2.2],[127.8,3.54,1.2],[126.65,3.31,1.8],[126.2,3.1,1.5],[127.1,3.15,1.7],[125.75,3.24,1.5],[127.45,3.31,1.1],[125.3,3.31,1.2],[128.7,3.56,1.2],[129.2,3.63,1.5],[130,3.42,1.5],[129.95,3.63,2],[130.6,3.63,1.8],[130.8,3.45,1.2],[131.25,3.63,1.5],[129.75,3.89,1.5],[130.1,4.12,2.8],[130.45,3.93,1.1],[131.15,4.17,2.5],[131.15,4,1.2],[130.45,4.35,1.5],[131.25,4.45,2.1],[132.15,4.45,1.8],[130.85,4.63,1.5],[131.45,4.89,2.2],[132,4.86,1.5],[130.95,4.75,1.1],[131.8,4,1.1],[132.3,3.98,1.1],[133.1,4.03,1.1],[132.95,4.24,1.5],[132.95,4.45,1.5],[133.5,4.55,1.8],[133.85,4.3,2.2],[131.65,3.84,1.1],[132.3,3.49,1.2],[132.55,3.63,1.5],[133,3.63,2.2],[133.55,3.84,1.5],[133.95,3.52,1.8],[133.1,3.33,1.2],[133.95,3.24,2.2],[133.7,3.75,1.1],[134.6,3.29,1.8],[134.75,3.15,1],[134.3,3.56,1.5],[134.95,3.61,1.7],[135.4,3.56,1.5],[135.6,3.75,1.1],[134.95,3.84,1.1],[134.45,3.84,1.2],[134.1,4.03,1.1],[134.2,4.17,1.1],[134.6,4.61,2],[135.2,4.58,1.5],[134.85,4.4,1.6],[135.4,4.31,1.2],[135.75,4.38,1.5],[136.4,4.35,1.8],[136.05,4.17,1.2],[135.2,3.35,1.7],[135.75,3.38,1.5],[136.25,3.29,1.5],[135.45,3.19,1.1],[136.25,3.8,1.2],[136.65,3.94,1.2],[137.25,4.49,2],[137.8,4.58,2],[138.35,4.51,1.5],[139.2,4.56,2.4],[138.7,4.27,1.1],[137.9,4.07,1.5],[137.25,3.98,1.2],[136.85,3.75,1.5],[137.3,3.75,1.5],[138.2,3.75,1.8],[139.5,3.87,1.9],[138.95,3.93,1.1],[138.8,3.66,1],[137.45,3.42,2.2],[138.15,3.42,2.2],[136.8,3.52,1.5],[138.6,3.52,1.2],[137.45,4.12,1.1],[136.65,4.26,1.1],[137.75,3.68,1.2],[134.25,3.33,1.5],[135.75,3.24,1],[136.55,3.63,1.2],[139.3,3.7,1],
[124.6,3.96,1.2],[124.3,4,1],[125.3,3.84,1.1],[126,3.66,1],[126.35,3.91,1],[126.95,3.84,1.1],[126.35,4.12,1.1],[127.55,3.98,1.1],[128.15,3.84,1.1],[128.55,4,1],[127.15,4.12,1.1],[126.65,4.38,1.1],[127.25,4.45,1.1],[124.95,4.12,1],[125.2,3.45,1],[126.2,3.42,1.1],[127.25,3.38,1.1],[126.5,3.19,1],[127.55,3.19,1.1],[128.4,3.56,1.1],[128.85,3.75,1],[129.45,3.47,1],[124.45,3.75,1],[123.4,3.66,1],[122.7,4.03,1.1],[120.7,3.98,1.1],[120.05,3.93,1.2],[121.5,4.96,1.1],[121.95,4.68,1.2],[122.55,4.45,1.1],[123.55,4.49,1.1],[124.3,4.68,1.2],[125.2,4.4,1.2],[125.55,5,1.1],[123.4,5.84,1.7],[124.05,5.26,1.1],
[123.4,4.63,1.2],[124,4.17,1.1],[124,4.86,1.1],[124.9,4.58,1.1],[125.2,4.63,1.2],[126.05,4.58,1.1],[126.35,4.86,1.1],[127.25,4.96,1.2],[127.8,5.05,1.1],[127,4.68,1.1],[127.8,4.63,1.2],[129,4.63,1.1],[128.7,4.77,1.2],[129.3,4.86,1.1],[127.65,4.26,1.1],[128.4,4.26,1.2],[128.85,4.26,1.1],[128.1,4.4,1.1],[126.35,4.31,1.1],[125.6,4.31,1.1],[125.2,4.03,1.2],[125.9,4.07,1.1],[126.05,3.8,1.1],[126.65,3.89,1.1],[127.25,4.03,1.1],[127.7,3.89,1.1],[128.7,3.84,1.1],[124.75,3.66,1.1],[125.45,3.61,1.1],[126.2,3.7,1.1],[126.8,3.66,1.1],[127.4,3.61,1.2],[128.1,3.66,1.1],[128.85,3.47,1.1],[127.25,3.19,1.1],[126.65,3.05,1.1],[125.2,3.19,1.1],[123.85,3.33,1.1],[122.65,3.19,1.1],[120.45,3.66,1.2],[121.65,3.38,1.2],[121.35,3.56,1.2],[120.45,4.31,1.2],[120.2,5.14,1.2],[121.05,4.86,1.2],[121.65,4.82,1.1],[122.1,4.58,1.1],[121.2,4.54,1.2],[122.7,4.58,1.2],[123.4,4.17,1.2],[123.1,3.93,1.2],[130.3,3.75,1.1],[130.75,3.84,1.1],[130.2,3.66,1.1],[131,3.8,1.1],[130.6,4.12,1.2],[131.65,4.12,1.1],[132.95,3.75,1.5],[133.35,3.66,1.1],[132.7,3.47,1.1],[133.55,3.38,1.2],[134.25,3.19,1.2],[134.85,3.38,1.1],[134.5,3.52,1.1],[135.15,3.7,1.1],[135.6,3.56,1.2],[136.05,3.52,1.1],[135.9,3.29,1.1],[135.05,3.19,1.2],[135.3,4.45,1.1],[135,4.49,1.2],[135.6,4.26,1.1],[136.95,3.94,1.1],[137.55,3.8,1.1],[137.85,3.52,1.2],[138.45,3.66,1.1],[138.95,3.75,1.1],[137.7,3.29,1.2],[137.25,3.66,1.1],[138.45,3.38,1.2]];

// Cluster 4 events that lie over cluster 2 in the picture
const clid4Late = [[123.7,10.73,2.5],[125.5,9.62,1.8],[121.55,8.55,1.8],[129.75,6.64,1.4],[133.5,5.97,1.8],[134.85,6.26,1.7],[130.15,7.09,1.6],[124.4,6.79,1.8],[124.9,6.58,1.8],[124.8,5.82,1.8],[119.6,7.4,1.8]];

// Larger events drawn as stars: [day, km, M, cluster]
const starEvents = [[53.05,5.34,4.5,1],[118.93,13.84,4.5,3],[118.48,7.51,4.6,2],[118.27,6.89,5.7,4],[119.65,6.59,4.2,2],[118.31,4.9,4.4,4],[119.13,4.05,5.1,4],[120.5,2.07,4.3,4]];

const clusterNames = ["CLID: 4","CLID: 3","CLID: 2","CLID: 1"];
const clusterColors = {1:"#ff4444",2:"#00ffff",3:"#7d7df2",4:"#00e600"};
const magnitudeLegend = [["M = 6.0",6,"star"],["M = 5.0",5,"star"],["M = 4.5",4.5,"star"],["M = 4.0",4,"circle"],["M = 3.0",3,"circle"],["M = 2.0",2,"circle"]];

const FONT = '"Liberation Sans", Helvetica, Arial, sans-serif';
const dateOf = d => new Date(Date.UTC(2014,5,1) + d*864e5);
const circleR = d3.scaleLinear([1,2,3,4,5],[4.5,8,14,24,40]);
const starR = d3.scaleLinear([4,4.5,5,6],[13.5,17.6,22,29.5]);
const GRID = {stroke:"#8a8a8a",strokeWidth:2.5,strokeDasharray:"18,17"};
const GRID_LIGHT = {stroke:"#c4c4c4",strokeWidth:4,strokeDasharray:"18,17"};
const GRID_DARK = {stroke:"#808080",strokeWidth:2,strokeDasharray:"18,17"};

function overlay(draw){return ()=>{const g=d3.create("svg:g");draw(g);return g.node();};}
function label(g,t,x,y,o={}){
  const s=g.append("text").text(t).attr("x",x).attr("y",y).attr("font-family",FONT)
    .attr("font-size",o.size||32).attr("fill",o.fill||"#222").attr("text-anchor",o.anchor||"start")
    .style("white-space","pre");
  if(o.len)s.attr("textLength",o.len).attr("lengthAdjust","spacingAndGlyphs");
  if(o.weight)s.attr("font-weight",o.weight);
  if(o.rotate)s.attr("transform",`rotate(${o.rotate},${x},${y})`);
  if(o.stroke)s.attr("stroke",o.stroke).attr("stroke-width",o.sw||3);
  return s;
}

// ---------- top panel ----------
const barRows=[];
const firstStack=countsClid1.length;
countsClid1.forEach((v,i)=>{if(v>0)barRows.push({i,y1:0,y2:v,c:1});});
countsClid2.forEach((v,k)=>{const i=firstStack+k;
  const a=v,b=a+countsClid3[k],c=b+countsClid4[k];
  barRows.push({i,y1:0,y2:a,c:2},{i,y1:a,y2:b,c:3},{i,y1:b,y2:c,c:4});});
const barDay=i=>1.09+i;

const topGridDays=d3.range(.67,141,5);
const topPlot=Plot.plot({
  width:3636,height:660,marginLeft:169,marginRight:48,marginTop:51,marginBottom:33,
  style:{background:"transparent",fontFamily:FONT,overflow:"visible"},
  x:{type:"utc",domain:[dateOf(-.4),dateOf(140.48)],axis:null},
  y:{domain:[0,107.06],axis:null},
  marks:[
    Plot.ruleX(topGridDays.map(dateOf),{...GRID}),
    Plot.ruleY([20,60,80],{...GRID_DARK}),
    Plot.ruleY([40,100],{...GRID_LIGHT}),
    Plot.ruleY([0,20,40,60,80,100],{x1:dateOf(-.4),x2:dateOf(.85),stroke:"#666",strokeWidth:2.5}),
    Plot.rect(barRows,{x1:d=>dateOf(barDay(d.i)-.41),x2:d=>dateOf(barDay(d.i)+.41),y1:"y1",y2:"y2",
      fill:d=>clusterColors[d.c],stroke:"#333",strokeWidth:2.5,inset:0}),
    Plot.axisY({anchor:"left",ticks:[0,20,40,60,80,100],tickSize:0,tickPadding:8,fontSize:33,label:null,fill:"#222"}),
    Plot.ruleY([0],{stroke:"#666",strokeWidth:3.5}),
    Plot.ruleX([dateOf(-.4)],{stroke:"#777",strokeWidth:3}),
    overlay(g=>{
      label(g,"# of events per  24  hours",83,338,{size:40,rotate:-90,anchor:"middle",len:465});
      g.append("rect").attr("x",180).attr("y",64).attr("width",232).attr("height",182).attr("fill","#fff").attr("stroke","#444").attr("stroke-width",2.5);
      [4,3,2,1].forEach((c,i)=>{
        const y=[74,117,161,204][i];
        g.append("rect").attr("x",197).attr("y",y).attr("width",74).attr("height",33).attr("fill",clusterColors[c]).attr("stroke","#333").attr("stroke-width",2.5);
        label(g,clusterNames[i],280,y+30,{size:38,len:122});
      });
    })
  ]
});
topPlot.style.top="0px";
document.getElementById("page").appendChild(topPlot);

// ---------- bottom panel ----------
const OFF=660;
const tickDays=d3.range(5,141,5);
const dot=(data,c)=>Plot.dot(d3.sort(data,d=>-d[2]),{x:d=>dateOf(d[0]),y:d=>d[1],r:d=>d[2],fill:clusterColors[c],stroke:"#111",strokeWidth:1.8});
const starMarks=starEvents.flatMap(s=>[
  Plot.dot([s],{x:d=>dateOf(d[0]),y:d=>d[1],r:starR(s[2]),symbol:"star",fill:"none",stroke:"#fff",strokeWidth:10,strokeLinejoin:"miter"}),
  Plot.dot([s],{x:d=>dateOf(d[0]),y:d=>d[1],r:starR(s[2]),symbol:"star",fill:clusterColors[s[3]],stroke:"#111",strokeWidth:4.5,strokeLinejoin:"miter"})
]);
const bottomPlot=Plot.plot({
  width:3636,height:2172-OFF,marginLeft:192,marginRight:48,marginTop:751.4-OFF,marginBottom:2172-1983.5,
  style:{background:"transparent",fontFamily:FONT,overflow:"visible"},
  x:{type:"utc",domain:[dateOf(.55),dateOf(140.48)],axis:null},
  y:{domain:[0,16],axis:null},
  r:{type:"linear",domain:[1,2,3,4,5],range:[6,9.5,15.5,25,40]},
  marks:[
    Plot.ruleX(tickDays.map(dateOf),{...GRID}),
    Plot.ruleY([4,8,12,14,16],{...GRID_DARK}),
    Plot.ruleY([2,6,10],{...GRID_LIGHT}),
    Plot.ruleX(tickDays.map(dateOf),{y1:0,y2:.3,stroke:"#666",strokeWidth:2.5}),
    Plot.ruleY(d3.range(0,17,2),{x1:dateOf(.55),x2:dateOf(1.9),stroke:"#666",strokeWidth:2.5}),
    Plot.axisX({anchor:"bottom",ticks:tickDays.map(dateOf),tickFormat:d=>d3.utcFormat("%d\u2212%b")(d),tickRotate:-45,tickSize:0,tickPadding:22,fontSize:50,label:null,fill:"#222",dx:6}),
    Plot.axisY({anchor:"left",ticks:d3.range(0,17,2),tickSize:0,tickPadding:10,fontSize:33,label:null,fill:"#222"}),
    dot(clid1Events,1),
    dot(clid4Events,4),
    dot(clid3Events,3),
    dot(clid2Events,2),
    dot(clid4Late,4),
    ...starMarks,
    Plot.ruleY([0],{stroke:"#666",strokeWidth:3.5}),
    Plot.ruleX([dateOf(.55)],{stroke:"#777",strokeWidth:3}),
    overlay(g=>{
      label(g,"event co\u2212ordinate along projection direction",72,1365-OFF,{size:40,rotate:-90,anchor:"middle",len:798});
      label(g,"distance (km) from point [35.1061\u00b0N, 25.2086\u00b0E] towards N46\u00b0E",122,1364-OFF,{size:40,rotate:-90,anchor:"middle",len:1174});
      label(g,"Spatio\u2212temporal distribution along projection in N46\u00b0E direction",1890,717-OFF,{size:43,anchor:"middle",len:1308});
      label(g,"B",100,744-OFF,{size:62,weight:"bold",fill:"#111"});
      label(g,"NE",207,736-OFF,{size:42,weight:"bold",fill:"#111",len:64});
      label(g,"SW",207,1961-OFF,{size:42,weight:"bold",fill:"#111",len:77});
      label(g,"A",111,2033-OFF,{size:62,weight:"bold",fill:"#111"});
      [["1",242,1636,1,"#e05050"],["3",2979,1160,3,clusterColors[3]],["2",3046,1331,2,clusterColors[2]],["4",2987,1872,4,"#20d020"]]
        .forEach(([t,x,y,c,f])=>label(g,t,x,y-OFF,{size:98,weight:"bold",anchor:"middle",fill:f,stroke:"#8a8a8a",sw:3}));
      g.append("rect").attr("x",226).attr("y",777-OFF).attr("width",286).attr("height",419).attr("fill","#fff").attr("stroke","#444").attr("stroke-width",2.5);
      const rows=[[833,841],[895,899],[955,960],[1018,1019],[1078,1079],[1138,1138]];
      magnitudeLegend.forEach(([t,m,s],i)=>{
        const r=s==="star"?starR(m):circleR(m);
        g.append("path").attr("d",d3.symbol(s==="star"?d3.symbolStar:d3.symbolCircle,Math.PI*r*r)())
          .attr("transform",`translate(284,${rows[i][0]-OFF})`).attr("fill","none").attr("stroke","#222").attr("stroke-width",s==="star"?4.5:2);
        label(g,t,342,rows[i][1]+15-OFF,{size:45,len:155});
      });
    })
  ]
});
bottomPlot.style.top=OFF+"px";
document.getElementById("page").appendChild(bottomPlot);
</script></body></html>
